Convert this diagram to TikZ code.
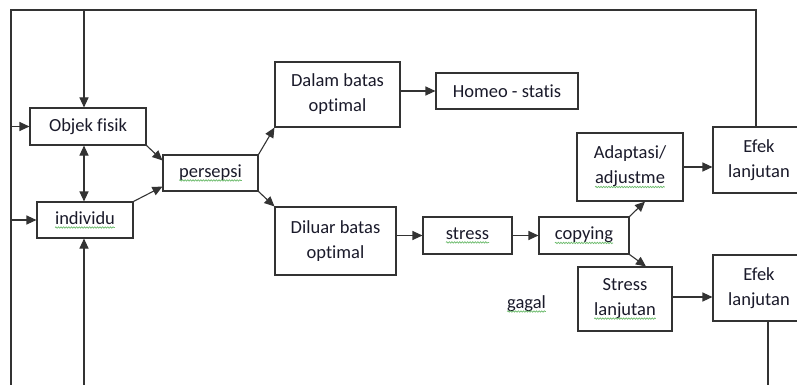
\documentclass[tikz,border=0pt]{standalone}
\usepackage{fontspec}
\setmainfont{Carlito}[Ligatures={NoCommon}]
\usetikzlibrary{arrows.meta,decorations.pathmorphing}
\definecolor{ln}{HTML}{333333}
\definecolor{txt}{HTML}{1A1A2A}
\definecolor{spell}{HTML}{6DBB6D}
\newcommand\sq[1]{\tikz[baseline=(w.base)]{\node[draw=none,fill=none,inner sep=0pt,outer sep=0pt,minimum width=0pt,minimum height=0pt,anchor=base](w){#1};\draw[spell,line width=0.7pt,decorate,decoration={snake,amplitude=0.7pt,segment length=2.6pt}]([yshift=-3.2pt]w.base west)--([yshift=-3.2pt]w.base east);}}
\begin{document}
\begin{tikzpicture}[x=1pt,y=-1pt,
  box/.style={draw=ln,line width=1.1pt,inner sep=0pt,align=center,text=txt,font=\fontsize{18.5}{25}\selectfont},
  arr/.style={draw=ln,line width=1.1pt,-{Triangle[length=10pt,width=9pt]}},
  arrb/.style={draw=ln,line width=1.1pt,{Triangle[length=10pt,width=9pt]}-{Triangle[length=10pt,width=9pt]}},
  plain/.style={draw=ln,line width=1.1pt}]
\useasboundingbox (0,0) rectangle (797,385);
\fill[white] (0,0) rectangle (797,385);
\node[box,minimum width=116pt,minimum height=37pt] (obj) at (88,126.5) {Objek fisik};
\node[box,minimum width=96pt,minimum height=36pt] (ind) at (85,220) {\sq{individu}};
\node[box,minimum width=95pt,minimum height=36pt] (pers) at (210.5,173) {\sq{persepsi}};
\node[box,minimum width=125pt,minimum height=65pt] (dalam) at (337.5,94.5) {Dalam batas\\optimal};
\node[box,minimum width=142pt,minimum height=36pt] (homeo) at (507,91) {Homeo - statis};
\node[box,minimum width=121pt,minimum height=68pt] (diluar) at (335.5,241) {Diluar batas\\optimal};
\node[box,minimum width=89pt,minimum height=37pt] (stress) at (467.5,235.5) {\sq{stress}};
\node[box,minimum width=90pt,minimum height=37pt] (copy) at (584,235.5) {\sq{copying}};
\node[box,minimum width=106pt,minimum height=68pt] (adapt) at (630,167) {Adaptasi/\\\sq{adjustme}};
\node[box,minimum width=94pt,minimum height=64pt] (slanj) at (625,299) {Stress\\\sq{lanjutan}};
\node[box,minimum width=92pt,minimum height=66pt] (efek1) at (759,160) {Efek\\lanjutan};
\node[box,minimum width=92pt,minimum height=66pt] (efek2) at (759,288) {Efek\\lanjutan};
\node[text=txt,font=\fontsize{18.5}{25}\selectfont,inner sep=0pt] (gagal) at (526.5,304) {\sq{gagal}};
\coordinate (tl) at (11,10);
\coordinate (tr) at (756,10);
\coordinate (bl) at (11,385);
\coordinate (t1) at (84,10);
\coordinate (b1) at (84,385);
\coordinate (b2) at (768,385);
\draw[plain] (efek1.north -| tr) -- (tr) -- (tl) -- (bl);
\draw[arr] (t1) -- (t1 |- obj.north);
\draw[arr] (obj.west -| tl) -- (obj.west);
\draw[arr] (ind.west -| tl) -- (ind.west);
\draw[arrb] (obj.south -| t1) -- (ind.north -| t1);
\draw[arr] (b1) -- (ind.south -| b1);
\draw[arr] (obj.south east) -- ([yshift=-6pt]pers.north west);
\draw[arr] (ind.north east) -- ([yshift=5pt]pers.south west);
\draw[arr] (pers.north east) -- (dalam.south west);
\draw[arr] (pers.south east) -- (diluar.north west);
\draw[arr] (homeo.west -| dalam.east) -- (homeo.west);
\draw[arr] (stress.west -| diluar.east) -- (stress.west);
\draw[arr] (stress.east) -- (copy.west);
\draw[arr] (copy.north east) -- ([xshift=15pt]adapt.south);
\draw[arr] (copy.south east) -- ([xshift=21pt]slanj.north);
\draw[arr] (adapt.east) -- (adapt.east -| efek1.west);
\draw[arr] ([yshift=2pt]slanj.east) -- ([yshift=2pt]slanj.east -| efek2.west);
\draw[plain] (efek2.south -| b2) -- (b2);
\end{tikzpicture}
\end{document}
